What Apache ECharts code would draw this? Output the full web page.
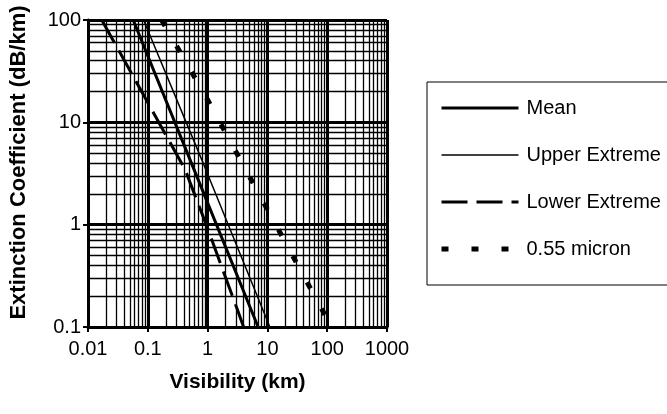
<!DOCTYPE html>
<html>
<head>
<meta charset="utf-8">
<script src="https://cdn.jsdelivr.net/npm/echarts@6/dist/echarts.min.js"></script>
<style>
  html, body { margin: 0; padding: 0; background: #fff; }
  #chart1 { width: 667px; height: 414px; }
</style>
</head>
<body>
<div id="chart1"></div>
<script>
// values (visibility km -> extinction dB/km)
const visMean = [0.057, 0.51, 7.0];
const extMean = [100, 4.3, 0.1];
const visUpper = [0.085, 0.8, 11];
const extUpper = [100, 4.3, 0.1];
const visLower = [0.017, 0.1, 0.42, 1, 3.2, 4.0];
const extLower = [100, 15.6, 3.46, 0.92, 0.144, 0.1];
const visMicron = [0.17, 1, 10, 118];
const extMicron = [100, 16.6, 1.41, 0.1];

const seriesNames = ['Mean', 'Upper Extreme', 'Lower Extreme', '0.55 micron'];

// minor grid values 2..9 in each decade
const xMinor = [];
for (let k = -2; k <= 2; k++) {
  for (let m = 2; m <= 9; m++) xMinor.push(Number((m * Math.pow(10, k)).toPrecision(2)));
}
const yMinor = [];
for (let k = -1; k <= 1; k++) {
  for (let m = 2; m <= 9; m++) yMinor.push(Number((m * Math.pow(10, k)).toPrecision(2)));
}

const font = 'Liberation Sans, Arial, sans-serif';
const pairs = (xs, ys) => xs.map((x, i) => [x, ys[i]]);
const fmt = v => String(Number(Number(v).toPrecision(3)));

// line looks, shared by plot and legend
const styles = {
  'Mean': { width: 3, type: 'solid' },
  'Upper Extreme': { width: 1.5, type: 'solid' },
  'Lower Extreme': { width: 3, type: [26, 9] },
  '0.55 micron': { width: 5, type: [7, 23] }
};

const initChart = () => {
  const chart1 = echarts.init(document.getElementById('chart1'));

  const lineSeries = (name, xs, ys) => ({
    name: name,
    type: 'line',
    data: pairs(xs, ys),
    symbol: 'none',
    showSymbol: false,
    z: 5,
    lineStyle: { color: '#000', width: styles[name].width, type: styles[name].type },
    itemStyle: { color: '#000' }
  });

  const option = {
    animation: false,
    backgroundColor: '#fff',
    grid: { left: 88, top: 20, right: 280, bottom: 87 },
    legend: {
      orient: 'vertical',
      left: 427,
      top: 82,
      data: seriesNames.map(n => ({
        name: n,
        lineStyle: { color: '#000', width: styles[n].width, type: styles[n].type }
      })),
      selectedMode: false,
      itemWidth: 77,
      itemHeight: 14,
      itemGap: 27,
      padding: [16, 40, 26, 12],
      borderColor: '#000',
      borderWidth: 1,
      itemStyle: { opacity: 0 },
      textStyle: { fontFamily: font, fontSize: 20, color: '#000', padding: [0, 0, 0, 3] }
    },
    xAxis: {
      type: 'log',
      logBase: 10,
      min: 0.01,
      max: 1000,
      splitNumber: 5,
      name: 'Visibility (km)',
      nameLocation: 'middle',
      nameGap: 45,
      nameTextStyle: { fontFamily: font, fontSize: 21, fontWeight: 'bold', color: '#000' },
      axisLine: { show: true, lineStyle: { color: '#000', width: 3 } },
      axisTick: { show: true, length: 5, lineStyle: { color: '#000', width: 2 } },
      axisLabel: { fontFamily: font, fontSize: 20, color: '#000', margin: 12, formatter: fmt },
      splitLine: { show: true, lineStyle: { color: '#000', width: 3 } }
    },
    yAxis: {
      type: 'log',
      logBase: 10,
      min: 0.1,
      max: 100,
      splitNumber: 3,
      name: 'Extinction Coefficient (dB/km)',
      nameLocation: 'middle',
      nameGap: 58,
      nameTextStyle: { fontFamily: font, fontSize: 22, fontWeight: 'bold', color: '#000', padding: [0, 0, 0, 22] },
      axisLine: { show: true, lineStyle: { color: '#000', width: 3 } },
      axisTick: { show: true, length: 5, lineStyle: { color: '#000', width: 2 } },
      axisLabel: { fontFamily: font, fontSize: 20, color: '#000', margin: 7, formatter: fmt },
      splitLine: { show: true, lineStyle: { color: '#000', width: 3 } }
    },
    series: [
      {
        name: 'grid',
        type: 'line',
        data: [],
        silent: true,
        z: 1,
        markLine: {
          silent: true,
          symbol: 'none',
          label: { show: false },
          lineStyle: { color: '#000', width: 1.3, type: 'solid' },
          emphasis: { disabled: true },
          data: xMinor.map(v => ({ xAxis: v })).concat(yMinor.map(v => ({ yAxis: v })))
        }
      },
      lineSeries('Mean', visMean, extMean),
      lineSeries('Upper Extreme', visUpper, extUpper),
      lineSeries('Lower Extreme', visLower, extLower),
      lineSeries('0.55 micron', visMicron, extMicron)
    ]
  };

  chart1.setOption(option);
};

document.addEventListener('DOMContentLoaded', () => {
  initChart();
});
</script>
</body>
</html>
